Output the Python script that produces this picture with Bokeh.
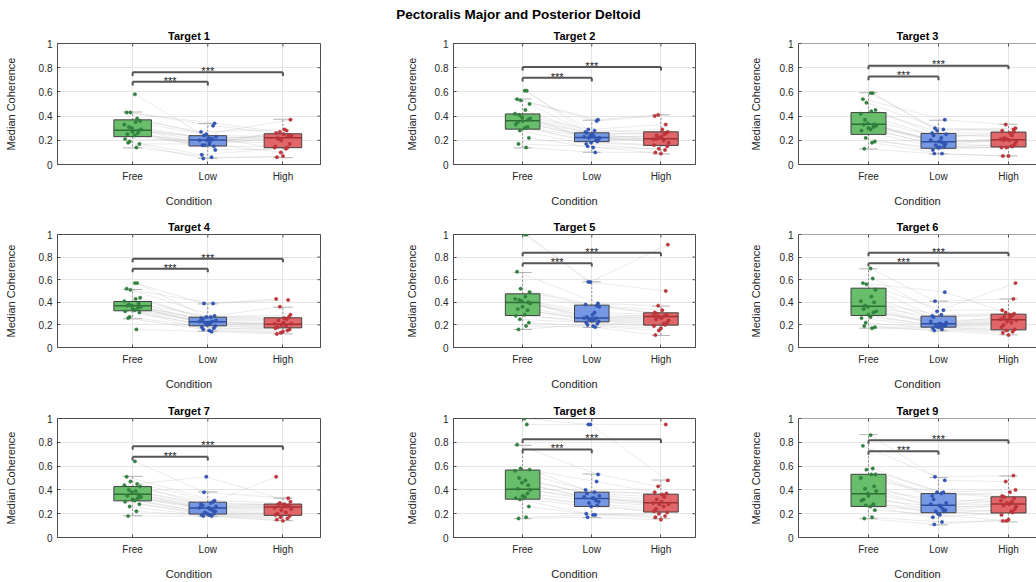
import numpy as np
from bokeh.plotting import figure
from bokeh.layouts import column, row
from bokeh.models import FixedTicker, Range1d, Span
from bokeh.embed import file_html
from bokeh.resources import INLINE
from bokeh.core.properties import value

# ---------------- data ----------------
main_title = "Pectoralis Major and Posterior Deltoid"
conditions = ["Free", "Low", "High"]
target_names = ["Target 1", "Target 2", "Target 3", "Target 4", "Target 5",
                "Target 6", "Target 7", "Target 8", "Target 9"]
y_ticks = [0, 0.2, 0.4, 0.6, 0.8, 1]
y_tick_labels = ["0", "0.2", "0.4", "0.6", "0.8", "1"]
x_label = "Condition"
y_label = "Median Coherence"
sig_label = "***"

free_1 = [0.58, 0.43, 0.38, 0.43, 0.36, 0.33, 0.35, 0.31, 0.28, 0.30, 0.29, 0.25, 0.27, 0.26, 0.21, 0.24, 0.19, 0.17, 0.18, 0.14]
low_1 = [0.24, 0.34, 0.25, 0.32, 0.27, 0.21, 0.23, 0.16, 0.22, 0.20, 0.21, 0.19, 0.16, 0.12, 0.20, 0.15, 0.08, 0.17, 0.05, 0.06]
high_1 = [0.23, 0.27, 0.37, 0.26, 0.29, 0.24, 0.21, 0.28, 0.14, 0.25, 0.20, 0.24, 0.22, 0.13, 0.17, 0.15, 0.14, 0.10, 0.07, 0.06]

free_2 = [0.61, 0.54, 0.61, 0.53, 0.50, 0.42, 0.45, 0.41, 0.37, 0.39, 0.38, 0.35, 0.36, 0.31, 0.33, 0.30, 0.28, 0.22, 0.17, 0.14]
low_2 = [0.29, 0.37, 0.24, 0.36, 0.27, 0.28, 0.22, 0.26, 0.25, 0.23, 0.20, 0.23, 0.22, 0.21, 0.18, 0.19, 0.17, 0.14, 0.15, 0.10]
high_2 = [0.33, 0.41, 0.27, 0.40, 0.29, 0.26, 0.24, 0.25, 0.21, 0.23, 0.22, 0.18, 0.21, 0.20, 0.15, 0.16, 0.12, 0.13, 0.09, 0.10]

free_3 = [0.59, 0.54, 0.59, 0.51, 0.45, 0.42, 0.44, 0.37, 0.33, 0.34, 0.32, 0.33, 0.30, 0.31, 0.28, 0.29, 0.22, 0.19, 0.13, 0.18]
low_3 = [0.30, 0.37, 0.28, 0.29, 0.26, 0.22, 0.25, 0.24, 0.19, 0.20, 0.18, 0.19, 0.16, 0.17, 0.14, 0.15, 0.12, 0.14, 0.09, 0.09]
high_3 = [0.29, 0.33, 0.30, 0.28, 0.26, 0.27, 0.22, 0.24, 0.21, 0.20, 0.21, 0.19, 0.20, 0.15, 0.17, 0.14, 0.15, 0.14, 0.07, 0.07]

free_4 = [0.57, 0.52, 0.57, 0.51, 0.44, 0.41, 0.43, 0.38, 0.39, 0.37, 0.36, 0.37, 0.34, 0.35, 0.32, 0.33, 0.27, 0.31, 0.26, 0.16]
low_4 = [0.39, 0.28, 0.27, 0.39, 0.26, 0.27, 0.24, 0.25, 0.22, 0.23, 0.23, 0.21, 0.22, 0.19, 0.20, 0.17, 0.18, 0.15, 0.16, 0.14]
high_4 = [0.42, 0.36, 0.29, 0.43, 0.26, 0.27, 0.24, 0.25, 0.21, 0.22, 0.20, 0.21, 0.18, 0.19, 0.16, 0.17, 0.15, 0.13, 0.14, 0.12]

free_5 = [1.0, 0.67, 1.0, 0.52, 0.49, 0.43, 0.45, 0.42, 0.40, 0.41, 0.39, 0.34, 0.36, 0.33, 0.28, 0.29, 0.25, 0.22, 0.16, 0.19]
low_5 = [0.58, 0.39, 0.58, 0.37, 0.38, 0.31, 0.36, 0.27, 0.29, 0.26, 0.26, 0.24, 0.25, 0.23, 0.24, 0.21, 0.22, 0.19, 0.20, 0.18]
high_5 = [0.50, 0.37, 0.91, 0.31, 0.33, 0.29, 0.30, 0.28, 0.28, 0.26, 0.27, 0.24, 0.25, 0.21, 0.22, 0.19, 0.20, 0.15, 0.17, 0.11]

free_6 = [0.70, 0.57, 0.61, 0.56, 0.51, 0.41, 0.45, 0.37, 0.40, 0.36, 0.32, 0.34, 0.29, 0.31, 0.26, 0.27, 0.22, 0.18, 0.19, 0.17]
low_6 = [0.41, 0.49, 0.32, 0.33, 0.28, 0.29, 0.22, 0.27, 0.21, 0.23, 0.20, 0.21, 0.19, 0.20, 0.18, 0.19, 0.17, 0.18, 0.15, 0.16]
high_6 = [0.43, 0.31, 0.57, 0.33, 0.29, 0.30, 0.27, 0.28, 0.25, 0.26, 0.23, 0.24, 0.20, 0.22, 0.16, 0.18, 0.14, 0.15, 0.11, 0.13]

free_7 = [0.64, 0.51, 0.45, 0.47, 0.43, 0.44, 0.39, 0.40, 0.36, 0.38, 0.34, 0.35, 0.32, 0.33, 0.30, 0.31, 0.26, 0.28, 0.18, 0.22]
low_7 = [0.38, 0.31, 0.51, 0.30, 0.28, 0.29, 0.26, 0.27, 0.25, 0.25, 0.23, 0.24, 0.21, 0.22, 0.20, 0.20, 0.19, 0.19, 0.18, 0.18]
high_7 = [0.33, 0.29, 0.30, 0.51, 0.28, 0.27, 0.28, 0.26, 0.25, 0.26, 0.23, 0.24, 0.20, 0.21, 0.18, 0.19, 0.16, 0.17, 0.14, 0.15]

free_8 = [1.0, 0.78, 0.95, 0.58, 0.57, 0.56, 0.48, 0.50, 0.44, 0.46, 0.40, 0.41, 0.35, 0.37, 0.33, 0.34, 0.32, 0.26, 0.16, 0.17]
low_8 = [0.95, 0.53, 0.95, 0.47, 0.40, 0.38, 0.35, 0.37, 0.33, 0.34, 0.31, 0.33, 0.29, 0.30, 0.26, 0.27, 0.20, 0.19, 0.17, 0.19]
high_8 = [0.95, 0.43, 0.48, 0.38, 0.36, 0.37, 0.32, 0.34, 0.29, 0.30, 0.28, 0.28, 0.24, 0.26, 0.21, 0.22, 0.18, 0.20, 0.15, 0.17]

free_9 = [0.86, 0.77, 0.58, 0.57, 0.53, 0.50, 0.53, 0.41, 0.43, 0.37, 0.39, 0.32, 0.35, 0.28, 0.31, 0.26, 0.27, 0.23, 0.16, 0.17]
low_9 = [0.51, 0.48, 0.38, 0.38, 0.35, 0.37, 0.29, 0.32, 0.27, 0.28, 0.24, 0.26, 0.22, 0.23, 0.20, 0.22, 0.17, 0.19, 0.11, 0.13]
high_9 = [0.52, 0.47, 0.40, 0.35, 0.38, 0.33, 0.34, 0.30, 0.31, 0.28, 0.29, 0.26, 0.27, 0.22, 0.24, 0.19, 0.21, 0.14, 0.15, 0.14]

# box statistics per condition: whisker low, Q1, median, Q3, whisker high
box_1 = [[0.137, 0.230, 0.284, 0.369, 0.434], [0.052, 0.153, 0.202, 0.238, 0.339], [0.057, 0.139, 0.221, 0.254, 0.374]]
box_2 = [[0.137, 0.292, 0.361, 0.418, 0.541], [0.101, 0.189, 0.224, 0.262, 0.366], [0.087, 0.158, 0.213, 0.270, 0.410]]
box_3 = [[0.128, 0.249, 0.333, 0.429, 0.593], [0.087, 0.134, 0.189, 0.257, 0.366], [0.071, 0.145, 0.205, 0.268, 0.333]]
box_4 = [[0.254, 0.325, 0.369, 0.407, 0.513], [0.144, 0.192, 0.227, 0.268, 0.386], [0.121, 0.174, 0.206, 0.263, 0.357]]
box_5 = [[0.159, 0.283, 0.398, 0.475, 0.664], [0.177, 0.227, 0.260, 0.375, 0.581], [0.106, 0.198, 0.274, 0.307, 0.366]]
box_6 = [[0.171, 0.283, 0.366, 0.525, 0.696], [0.147, 0.180, 0.210, 0.277, 0.410], [0.112, 0.156, 0.245, 0.295, 0.430]]
box_7 = [[0.183, 0.308, 0.364, 0.428, 0.514], [0.178, 0.197, 0.247, 0.297, 0.383], [0.142, 0.186, 0.256, 0.281, 0.331]]
box_8 = [[0.158, 0.322, 0.406, 0.567, 0.775], [0.167, 0.261, 0.328, 0.381, 0.533], [0.158, 0.214, 0.292, 0.364, 0.483]]
box_9 = [[0.158, 0.261, 0.367, 0.531, 0.864], [0.106, 0.208, 0.272, 0.369, 0.503], [0.131, 0.206, 0.281, 0.342, 0.517]]

# significance bracket heights (Free-Low, Free-High)
bracket_low = [0.683, 0.716, 0.727, 0.696, 0.746, 0.746, 0.678, 0.739, 0.725]
bracket_high = [0.762, 0.806, 0.817, 0.785, 0.838, 0.838, 0.767, 0.825, 0.817]

# ---------------- style / layout ----------------
jit_free = [0.03, -0.08, 0.06, -0.03, 0.10, -0.11, 0.04, -0.05, 0.08, -0.01, 0.11, -0.07, 0.00, 0.07, -0.10, 0.03, -0.04, 0.09, -0.06, 0.05]
jit_low = [-0.05, 0.09, -0.02, 0.07, -0.09, 0.04, 0.11, -0.07, 0.01, -0.11, 0.06, 0.03, -0.04, 0.10, -0.01, 0.08, -0.08, 0.02, -0.06, 0.05]
jit_high = [0.07, -0.04, 0.10, -0.09, 0.02, 0.08, -0.06, 0.05, -0.11, 0.01, -0.02, 0.11, -0.07, 0.04, 0.09, -0.10, 0.06, -0.03, 0.00, -0.08]

FREE = [free_1, free_2, free_3, free_4, free_5, free_6, free_7, free_8, free_9]
LOW = [low_1, low_2, low_3, low_4, low_5, low_6, low_7, low_8, low_9]
HIGH = [high_1, high_2, high_3, high_4, high_5, high_6, high_7, high_8, high_9]
BOXES = [box_1, box_2, box_3, box_4, box_5, box_6, box_7, box_8, box_9]
JIT = [jit_free, jit_low, jit_high]

FONT = "Liberation Sans"
fills = ["#5cb85f", "#6b8fe2", "#e05a5d"]
medians = ["#2f6f34", "#2f4f9e", "#9f3033"]
dots = ["#2e8541", "#2f57b9", "#c8333b"]
BOX_EDGE = "#404040"
AX = "#4d4d4d"
TXT = "#262626"
TICK = 3  # px

col_w = [387, 358, 291]
col_lb = [57, 66, 53]
col_rb = [67, 50, 0]
col_xend = [3.5, 3.5, 3.4]
col_ylab_standoff = [19, 14, 15]
row_h = [184, 184, 188]
row_tb = [16, 24, 24]
row_bb = [46, 47, 44]
row_xlab_standoff = [10, 10, 10]


def deco_axis(ax, ticks):
    ax.ticker = FixedTicker(ticks=ticks)
    ax.major_tick_in = TICK
    ax.major_tick_out = 0
    ax.minor_tick_in = 0
    ax.minor_tick_out = 0
    ax.axis_line_color = AX
    ax.axis_line_width = 1
    ax.major_tick_line_color = AX


def panel(k):
    ri, ci = divmod(k, 3)
    fw = col_w[ci] - col_lb[ci] - col_rb[ci]
    fh = row_h[ri] - row_tb[ri] - row_bb[ri]
    p = figure(width=col_w[ci], height=row_h[ri],
               x_range=Range1d(0, col_xend[ci]), y_range=Range1d(0, 1),
               output_backend="svg", toolbar_location=None,
               min_border_left=col_lb[ci], min_border_right=col_rb[ci],
               min_border_top=row_tb[ri], min_border_bottom=row_bb[ri])
    p.background_fill_color = "white"
    p.border_fill_color = "white"
    if ci < 2:
        p.outline_line_color = AX
        p.outline_line_width = 1
    else:
        p.outline_line_color = None
        p.add_layout(Span(location=1, dimension="width", line_color=AX, line_width=1))

    p.title.text = target_names[k]
    p.title.align = "center"
    p.title.text_font = FONT
    p.title.text_font_size = "11px"
    p.title.text_font_style = "bold"
    p.title.text_color = "black"
    p.title.standoff = 3

    xa = p.below[0]
    ya = p.left[0]
    deco_axis(xa, [1, 2, 3])
    deco_axis(ya, y_ticks)
    xa.major_label_overrides = {i + 1: c for i, c in enumerate(conditions)}
    ya.major_label_overrides = {t: l for t, l in zip(y_ticks, y_tick_labels)}
    for ax in (xa, ya):
        ax.major_label_text_font = FONT
        ax.major_label_text_font_size = "10px"
        ax.major_label_text_color = TXT
        ax.axis_label_text_font = FONT
        ax.axis_label_text_font_size = "11px"
        ax.axis_label_text_font_style = "normal"
        ax.axis_label_text_color = TXT
    xa.major_label_standoff = 6
    ya.major_label_standoff = 5
    xa.axis_label = x_label
    ya.axis_label = y_label
    xa.axis_label_standoff = row_xlab_standoff[ri]
    ya.axis_label_standoff = col_ylab_standoff[ci]

    p.xgrid.ticker = FixedTicker(ticks=[1, 2, 3])
    p.ygrid.ticker = FixedTicker(ticks=y_ticks)
    p.grid.grid_line_color = "#e6e6e6"
    p.grid.grid_line_width = 1

    # inward ticks on the top and right edges of the box
    xend = col_xend[ci]
    dy = TICK / fh
    p.segment(x0=[1, 2, 3], y0=[1, 1, 1], x1=[1, 2, 3], y1=[1 - dy] * 3,
              line_color=AX, line_width=1)
    if ci < 2:
        dx = TICK * xend / fw
        p.segment(x0=[xend] * len(y_ticks), y0=y_ticks, x1=[xend - dx] * len(y_ticks),
                  y1=y_ticks, line_color=AX, line_width=1)

    groups = [FREE[k], LOW[k], HIGH[k]]
    n = len(FREE[k])
    # subject lines
    xs = [[1 + JIT[0][i], 2 + JIT[1][i], 3 + JIT[2][i]] for i in range(n)]
    ys = [[groups[0][i], groups[1][i], groups[2][i]] for i in range(n)]
    p.multi_line(xs, ys, line_color="#bdbdbd", line_alpha=0.5, line_width=0.6)

    stats = BOXES[k]
    for c in range(3):
        x = c + 1
        lo, q1, med, q3, hi = stats[c]
        p.segment(x0=[x, x], y0=[q3, q1], x1=[x, x], y1=[hi, lo],
                  line_color="#8a8a8a", line_dash="2 2", line_width=1)
        p.segment(x0=[x - 0.13, x - 0.13], y0=[hi, lo], x1=[x + 0.13, x + 0.13], y1=[hi, lo],
                  line_color="#b3b3b3", line_width=1)
        p.quad(left=[x - 0.25], right=[x + 0.25], bottom=[q1], top=[q3],
               fill_color=fills[c], fill_alpha=0.92, line_color=BOX_EDGE, line_width=1)
        p.segment(x0=[x - 0.25], y0=[med], x1=[x + 0.25], y1=[med],
                  line_color=medians[c], line_width=1.5)
        px = [x + j for j in JIT[c][:n]]
        p.scatter(px, groups[c], size=3.4, fill_color=dots[c], line_color=medians[c],
                  line_width=0.4)

    # significance brackets
    for b, xr in ((bracket_low[k], 2), (bracket_high[k], 3)):
        d = 0.03
        p.segment(x0=[1, 1, xr], y0=[b, b, b], x1=[xr, 1, xr], y1=[b, b - d, b - d],
                  line_color="#555555", line_width=2)
        p.text(x=[(1 + xr) / 2], y=[b + 0.01], text=[sig_label],
               text_align="center", text_baseline="alphabetic",
               text_font=value(FONT), text_font_size="11px", text_color="#1a1a1a")
    return p


head = figure(width=1036, height=26, x_range=(0, 1), y_range=(0, 1),
              x_axis_type=None, y_axis_type=None, output_backend="svg",
              toolbar_location=None, min_border=0)
head.outline_line_color = None
head.text(x=[0.5], y=[0.46], text=[main_title], text_align="center",
          text_baseline="middle", text_font=value(FONT), text_font_size="13.5px",
          text_font_style="bold", text_color="black")

panels = [panel(k) for k in range(9)]
layout = column(head,
                row(panels[0], panels[1], panels[2]),
                row(panels[3], panels[4], panels[5]),
                row(panels[6], panels[7], panels[8]))

open("out.html", "w").write(file_html(layout, INLINE))
